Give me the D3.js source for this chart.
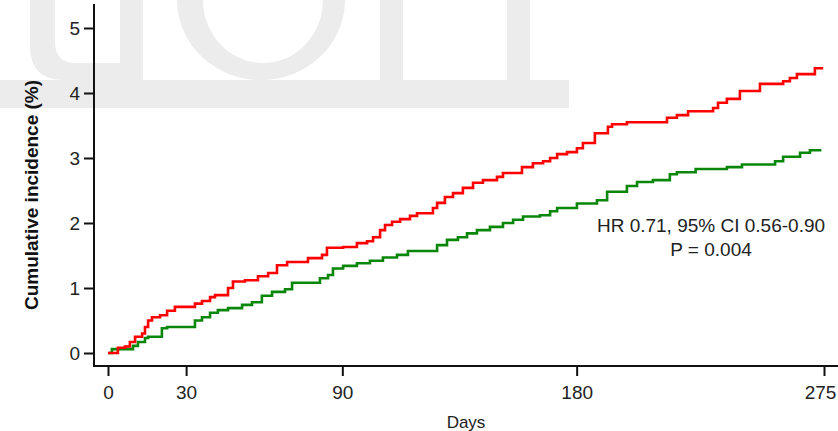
<!DOCTYPE html>
<html>
<head>
<meta charset="utf-8">
<script src="https://cdn.jsdelivr.net/npm/d3@7"></script>
<style>
  body { margin: 0; background: #fff; }
  text { font-family: "Liberation Sans", Arial, sans-serif; }
</style>
</head>
<body>
<div id="canvas"></div>
<script>
// step points (days, cumulative incidence %)
const redDays = [0, 3.8, 6.5, 8.4, 10.4, 13.1, 14.2, 15.4, 16.9, 20.0, 22.7, 25.7, 33.4, 36.1, 39.2, 41.1,
  46.1, 48.0, 52.6, 57.6, 61.5, 64.9, 68.8, 76.8, 82.2, 84.1, 90.3, 95.6, 99.5, 101.8, 104.5, 106.4,
  109.1, 112.2, 116.0, 118.7, 124.8, 126.4, 129.4, 132.5, 136.3, 140.2, 144.0, 149.4, 151.7, 159.0,
  163.2, 167.1, 169.8, 172.5, 176.3, 180.1, 182.4, 187.0, 192.0, 193.6, 199.3, 214.7, 218.5, 222.8,
  232.4, 234.3, 237.7, 242.7, 250.4, 259.3, 261.9, 264.6, 271.5, 274.2];
const redValues = [0, 0.08, 0.10, 0.17, 0.25, 0.30, 0.40, 0.50, 0.55, 0.58, 0.65, 0.71, 0.76, 0.80, 0.86, 0.89,
  1.00, 1.10, 1.12, 1.18, 1.23, 1.35, 1.40, 1.46, 1.51, 1.62, 1.63, 1.69, 1.72, 1.78, 1.89, 1.97,
  2.02, 2.06, 2.11, 2.15, 2.23, 2.31, 2.40, 2.46, 2.54, 2.62, 2.66, 2.71, 2.77, 2.86,
  2.92, 2.95, 3.00, 3.06, 3.09, 3.15, 3.23, 3.38, 3.48, 3.52, 3.55, 3.62, 3.66, 3.72,
  3.77, 3.85, 3.91, 4.03, 4.14, 4.18, 4.23, 4.29, 4.38, 4.40];

const greenDays = [0, 1.5, 9.6, 11.5, 14.2, 15.4, 20.7, 22.7, 33.4, 36.1, 39.2, 42.2, 46.1, 51.5, 55.3,
  59.1, 63.0, 68.0, 70.7, 81.4, 84.5, 86.4, 90.3, 95.6, 100.6, 105.6, 111.0, 115.2, 126.4, 130.2,
  134.4, 137.9, 141.7, 146.7, 151.7, 155.6, 159.4, 165.9, 169.8, 172.5, 180.1, 187.8, 191.7, 199.3,
  203.2, 209.3, 215.8, 218.5, 225.7, 237.7, 243.5, 256.2, 259.3, 265.8, 269.6, 273.5];
const greenValues = [0, 0.06, 0.11, 0.17, 0.23, 0.25, 0.38, 0.40, 0.50, 0.55, 0.62, 0.66, 0.69, 0.74, 0.78,
  0.88, 0.94, 0.98, 1.08, 1.15, 1.20, 1.30, 1.34, 1.38, 1.42, 1.47, 1.51, 1.57, 1.66, 1.74,
  1.78, 1.84, 1.89, 1.94, 2.00, 2.05, 2.10, 2.12, 2.18, 2.23, 2.30, 2.35, 2.48, 2.57,
  2.63, 2.66, 2.75, 2.78, 2.83, 2.86, 2.90, 2.95, 3.02, 3.08, 3.12, 3.14];

const xTicks = [0, 30, 90, 180, 275];
const yTicks = [0, 1, 2, 3, 4, 5];
const hrLines = ["HR 0.71, 95% CI 0.56-0.90", "P = 0.004"];

let width = 838, height = 431;

let svg = d3.select("#canvas")
  .append("svg")
  .attr("width", width)
  .attr("height", height);

// faint watermark lettering behind the plot
let wm = svg.append("g").attr("fill", "#ececec");
wm.append("rect").attr("x", 0).attr("y", 80).attr("width", 569).attr("height", 28);
wm.append("path").attr("d", "M30,0 H55 V42 Q55,63 76,63 H120 V0 H143 V80 H64 Q30,80 30,46 Z");
wm.append("path")
  .attr("fill-rule", "evenodd")
  .attr("d", "M177,0 A84,80 0 0,0 345,0 Z M203,0 A60,63 0 0,0 323,0 Z");
wm.append("rect").attr("x", 380).attr("y", 0).attr("width", 23).attr("height", 80);
wm.append("rect").attr("x", 507).attr("y", 0).attr("width", 23).attr("height", 80);

let x = d3.scaleLinear().domain([0, 275]).range([108, 824]);
let y = d3.scaleLinear().domain([0, 5]).range([353, 28]);

// curves
let line = d3.line()
  .x(d => x(d[0]))
  .y(d => y(d[1]))
  .curve(d3.curveStepAfter);

svg.append("path")
  .datum(greenDays.map((d, i) => [d, greenValues[i]]))
  .attr("fill", "none")
  .attr("stroke", "#0a870a")
  .attr("stroke-width", 2.6)
  .attr("d", line);

svg.append("path")
  .datum(redDays.map((d, i) => [d, redValues[i]]))
  .attr("fill", "none")
  .attr("stroke", "#ff0000")
  .attr("stroke-width", 2.6)
  .attr("d", line);

// axes
let yAxis = svg.append("g")
  .attr("transform", "translate(94,0)")
  .call(d3.axisLeft(y).tickValues(yTicks).tickSize(10).tickPadding(4).tickFormat(d3.format("d")));

let xAxis = svg.append("g")
  .attr("transform", "translate(0,366)")
  .call(d3.axisBottom(x).tickValues(xTicks).tickSize(10).tickPadding(10));

[yAxis, xAxis].forEach(g => {
  g.select(".domain").remove();
  g.selectAll(".tick line").attr("stroke", "#111").attr("stroke-width", 2);
  g.selectAll(".tick text")
    .attr("fill", "#222")
    .style("font-size", "19px")
    .style("font-family", "'Liberation Sans', Arial, sans-serif");
});

// last label sits against the right edge
xAxis.selectAll(".tick text").filter(d => d === 275).attr("dx", -4);

svg.append("line")
  .attr("x1", 94).attr("x2", 94)
  .attr("y1", 4).attr("y2", 367)
  .attr("stroke", "#111").attr("stroke-width", 2);

svg.append("line")
  .attr("x1", 93).attr("x2", 838)
  .attr("y1", 366).attr("y2", 366)
  .attr("stroke", "#111").attr("stroke-width", 2);

// axis titles
svg.append("text")
  .attr("transform", "translate(38,195) rotate(-90)")
  .attr("text-anchor", "middle")
  .style("font-size", "19px")
  .style("font-weight", "bold")
  .attr("fill", "#111")
  .text("Cumulative incidence (%)");

svg.append("text")
  .attr("x", 466)
  .attr("y", 428)
  .attr("text-anchor", "middle")
  .style("font-size", "17px")
  .attr("fill", "#222")
  .text("Days");

// hazard ratio annotation
svg.selectAll(".hr")
  .data(hrLines)
  .enter()
  .append("text")
  .attr("class", "hr")
  .attr("x", 711)
  .attr("y", (d, i) => 232 + i * 24)
  .attr("text-anchor", "middle")
  .style("font-size", "19px")
  .attr("fill", "#222")
  .text(d => d);
</script>
</body>
</html>
